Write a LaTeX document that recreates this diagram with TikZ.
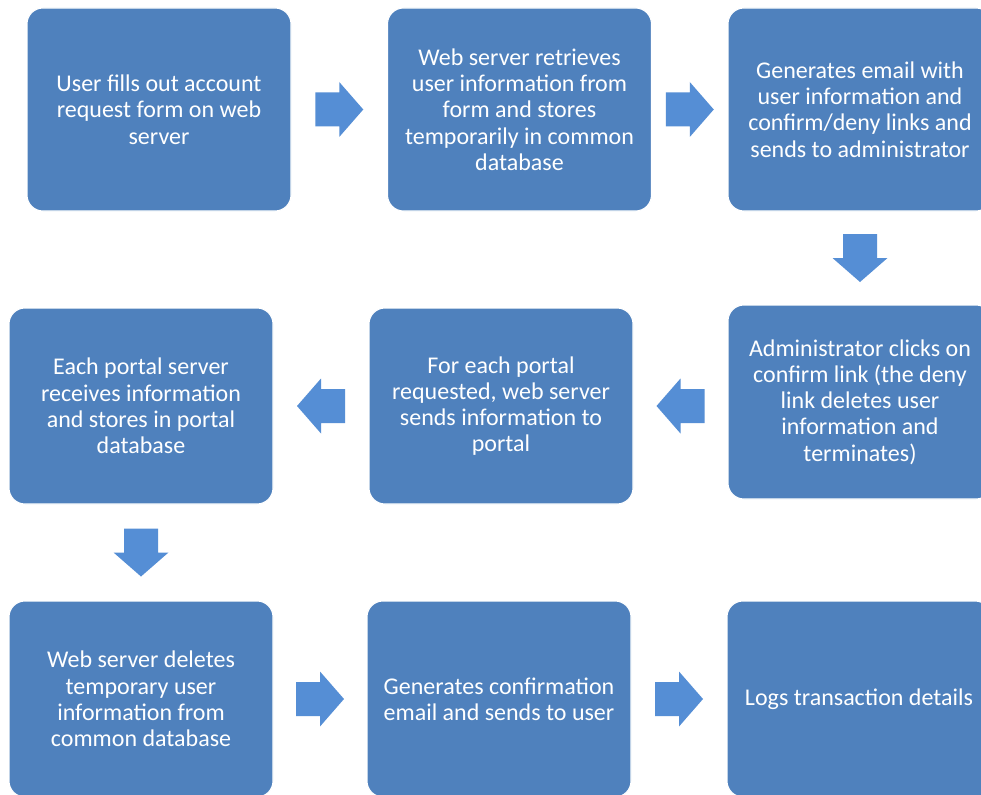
\documentclass[tikz,border=0pt]{standalone}
\usepackage{fontspec}
\setmainfont{Carlito}
\usetikzlibrary{calc}
\definecolor{boxblue}{HTML}{4F81BD}
\definecolor{arrowblue}{HTML}{558ED5}
\begin{document}
\begin{tikzpicture}[x=0.75pt,y=-0.75pt,
  stepbox/.style={fill=boxblue,draw=white,line width=0.8pt,rounded corners=12pt,
    text=white,align=center,inner sep=0pt,minimum width=198pt,
    font=\fontsize{18}{19.7}\selectfont},
  blockarrow/.pic={\fill[arrowblue] (-24,-17) -- (0,-17) -- (0,-27.5) -- (24,0)
    -- (0,27.5) -- (0,17) -- (-24,17) -- cycle;}]
\useasboundingbox (0,0) rectangle (981,795);
\clip (0,0) rectangle (981,795);
\fill[white] (0,0) rectangle (981,795);

% first row
\node[stepbox,minimum height=152.25pt] (b1) at (159,109.5)
  {User fills out account\\request form on web\\server};
\node[stepbox,minimum height=152.25pt] (b2) at (519.5,109.5)
  {Web server retrieves\\user information from\\form and stores\\temporarily in common\\database};
\node[stepbox,minimum height=152.25pt] (b3) at (860,109.5)
  {Generates email with\\user information and\\confirm/deny links and\\sends to administrator};

% second row
\node[stepbox,minimum height=147pt] (b4) at (141,406)
  {Each portal server\\receives information\\and stores in portal\\database};
\node[stepbox,minimum height=147pt] (b5) at (501,406)
  {For each portal\\requested, web server\\sends information to\\portal};
\node[stepbox,minimum height=145.5pt] (b6) at (860,402)
  {Administrator clicks on\\confirm link (the deny\\link deletes user\\information and\\terminates)};

% third row (runs past the lower edge)
\node[stepbox,minimum height=147pt] (b7) at (141,699)
  {Web server deletes\\temporary user\\information from\\common database};
\node[stepbox,minimum height=147pt] (b8) at (499,699)
  {Generates confirmation\\email and sends to user};
\node[stepbox,minimum height=147pt] (b9) at (859,699)
  {Logs transaction details};

% block arrows between the steps
\pic at ($(b1.east)!0.5!(b2.west)$) {blockarrow};
\pic at ($(b2.east)!0.5!(b3.west)$) {blockarrow};
\pic[rotate=-90] at ($(b3.south)!0.5!(b6.north)$) {blockarrow};
\pic[rotate=180] at ($(b6.west|-b5.east)!0.5!(b5.east)$) {blockarrow};
\pic[rotate=180] at ($(b5.west)!0.5!(b4.east)$) {blockarrow};
\pic[rotate=-90] at ($(b4.south)!0.5!(b7.north)$) {blockarrow};
\pic at ($(b7.east)!0.5!(b8.west)$) {blockarrow};
\pic at ($(b8.east)!0.5!(b9.west)$) {blockarrow};
\end{tikzpicture}
\end{document}
